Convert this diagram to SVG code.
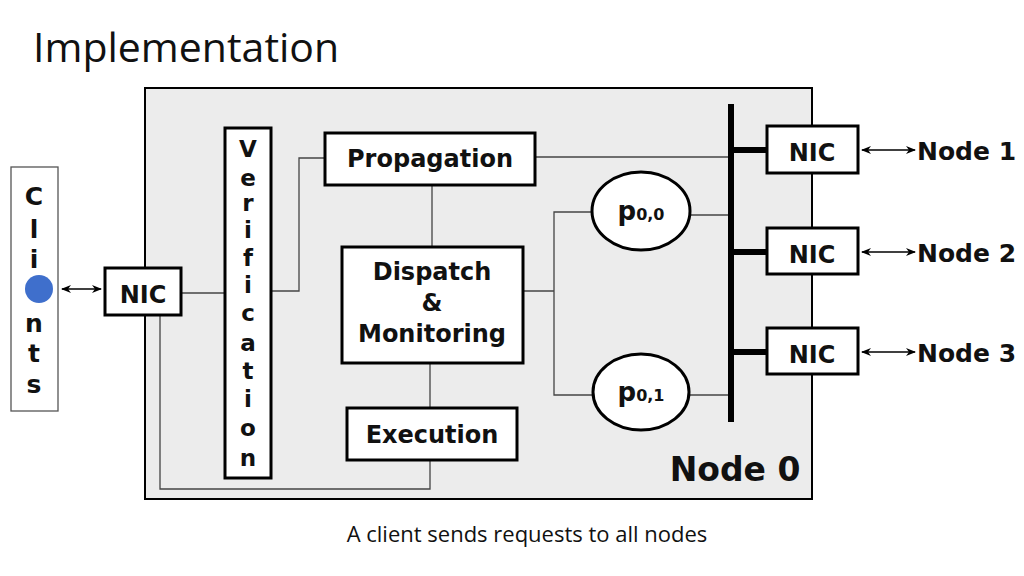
<svg xmlns="http://www.w3.org/2000/svg" width="1024" height="576" viewBox="0 0 1024 576">
<defs>
<marker id="ah" viewBox="0 0 10 10" refX="9" refY="5" markerWidth="10" markerHeight="10" orient="auto-start-reverse" markerUnits="userSpaceOnUse"><path d="M0,1 L10,5 L0,9 L3,5 Z" fill="#000"/></marker>
<style>
.b{fill:#fff;stroke:#000;stroke-width:3}
.t{font-family:"DejaVu Sans",sans-serif;font-weight:bold;fill:#111}
.c{fill:none;stroke:#444;stroke-width:1.3}
.a{stroke:#000;stroke-width:1.3;fill:none}
</style>
</defs>
<rect width="1024" height="576" fill="#fff"/>
<text x="33" y="62" font-family="Open Sans, sans-serif" font-size="41" fill="#111">Implementation</text>
<g id="node0"><rect x="145" y="88" width="667" height="411" fill="#ececec" stroke="#000" stroke-width="2"/>
<text class="t" x="735" y="481" font-size="33" text-anchor="middle">Node 0</text></g>
<g id="connectors">
<path class="c" d="M181,293H225M271,291H299V158H325M535,157H731M432,185V247M523,291H554M592,212H554V395H592M690,215H731M689,395H731M430,363V408M430,460V489H160V315"/>
<path d="M731,104V422M731,150H767M731,252H767M731,352H767" stroke="#000" stroke-width="6" fill="none"/>
<path class="a" d="M62,289H101" marker-start="url(#ah)" marker-end="url(#ah)"/>
<path class="a" d="M862,150H915" marker-start="url(#ah)" marker-end="url(#ah)"/>
<path class="a" d="M862,252H915" marker-start="url(#ah)" marker-end="url(#ah)"/>
<path class="a" d="M862,352H915" marker-start="url(#ah)" marker-end="url(#ah)"/>
</g>
<g id="clients"><rect x="11" y="167" width="47" height="244" fill="#fff" stroke="#555" stroke-width="1.3"/>
<g class="t" font-size="25" text-anchor="middle"><text x="34" y="205">C</text><text x="34" y="238">l</text><text x="34" y="268">i</text><text x="34" y="332">n</text><text x="34" y="362">t</text><text x="34" y="393">s</text></g>
<circle cx="39" cy="289" r="14" fill="#3f6fcc"/></g>
<g id="nic0"><rect class="b" x="105" y="268" width="76" height="47"/><text class="t" x="143" y="303" font-size="24" text-anchor="middle">NIC</text></g>
<g id="verification"><rect class="b" x="225" y="128" width="46" height="350"/>
<g class="t" font-size="23" text-anchor="middle"><text x="248" y="157">V</text><text x="248" y="186">e</text><text x="248" y="211">r</text><text x="248" y="238">i</text><text x="248" y="266">f</text><text x="248" y="293">i</text><text x="248" y="321">c</text><text x="248" y="351">a</text><text x="248" y="379">t</text><text x="248" y="407">i</text><text x="248" y="436">o</text><text x="248" y="466">n</text></g></g>
<g id="propagation"><rect class="b" x="325" y="133" width="210" height="52"/><text class="t" x="430" y="167" font-size="24" text-anchor="middle">Propagation</text></g>
<g id="dispatch"><rect class="b" x="342" y="247" width="181" height="116"/>
<g class="t" font-size="24" text-anchor="middle"><text x="432" y="280">Dispatch</text><text x="432" y="311">&amp;</text><text x="432" y="342">Monitoring</text></g></g>
<g id="execution"><rect class="b" x="347" y="408" width="170" height="52"/><text class="t" x="432" y="443" font-size="24" text-anchor="middle">Execution</text></g>
<g id="p00"><ellipse class="b" cx="641" cy="211" rx="49" ry="39"/><text class="t" x="641" y="220" font-size="26" text-anchor="middle">p<tspan font-size="16">0,0</tspan></text></g>
<g id="p01"><ellipse class="b" cx="641" cy="392" rx="48" ry="38"/><text class="t" x="641" y="401" font-size="26" text-anchor="middle">p<tspan font-size="16">0,1</tspan></text></g>
<g id="nic1"><rect class="b" x="767" y="126" width="91" height="47" stroke-width="2"/><text class="t" x="812" y="161" font-size="24" text-anchor="middle">NIC</text></g>
<g id="nic2"><rect class="b" x="767" y="228" width="91" height="46" stroke-width="2"/><text class="t" x="812" y="263" font-size="24" text-anchor="middle">NIC</text></g>
<g id="nic3"><rect class="b" x="767" y="328" width="91" height="46" stroke-width="2"/><text class="t" x="812" y="363" font-size="24" text-anchor="middle">NIC</text></g>
<g class="t" font-size="25"><text x="917" y="160">Node 1</text><text x="917" y="262">Node 2</text><text x="917" y="362">Node 3</text></g>
<text x="527" y="542" font-family="Open Sans, sans-serif" font-size="22" fill="#111" text-anchor="middle">A client sends requests to all nodes</text>
</svg>
